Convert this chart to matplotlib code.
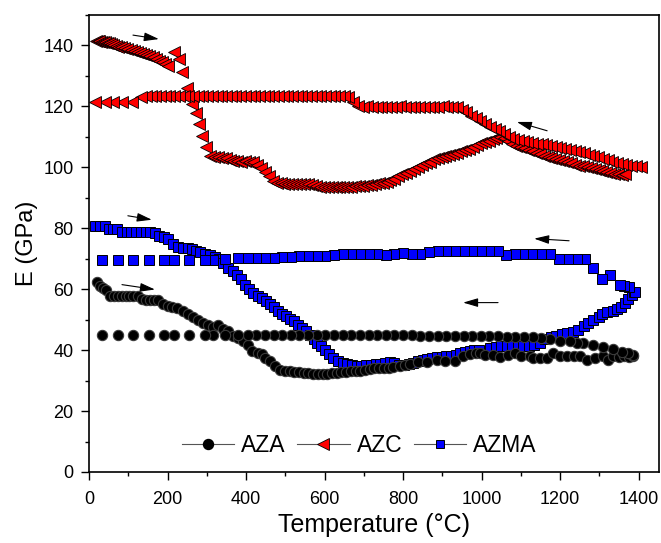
import matplotlib
matplotlib.use("Agg")
import matplotlib.pyplot as plt
from matplotlib.lines import Line2D
from matplotlib.ticker import MultipleLocator

plt.rcParams['font.family'] = ['Liberation Sans', 'DejaVu Sans']

# AZC (triangles) - heating branch
azc_heat_T = [18, 22, 26, 30, 35, 40, 45, 50, 56, 62, 68, 75, 82, 90, 98, 106, 114, 122, 130, 138,
              146, 154, 162, 170, 178, 186, 194, 202, 216, 228, 238, 250, 262, 272, 280, 288, 298, 308, 318,
              328, 338, 348, 358, 368, 378, 388, 398, 408, 418, 428, 438, 448, 458, 468, 478, 488, 498,
              508, 518, 528, 538, 548, 558, 568, 578, 588, 598, 608, 618, 628, 638, 648, 658, 668, 678,
              688, 698, 708, 718, 728, 738, 748, 758, 768, 778, 788, 798, 808, 818, 828, 838, 848, 858,
              868, 878, 888, 898, 908, 918, 928, 938, 948, 958, 968, 978, 988, 998, 1008, 1018, 1028,
              1038, 1048, 1058, 1068, 1078, 1088, 1098, 1108, 1118, 1128, 1138, 1148, 1158, 1168, 1178,
              1188, 1198, 1208, 1218, 1228, 1238, 1248, 1258, 1268, 1278, 1288, 1298, 1308, 1318, 1328,
              1338, 1348, 1358, 1366]
azc_heat_E = [141.6, 141.5, 141.4, 141.3, 141.2, 141.0, 140.9, 140.7, 140.5, 140.2, 139.9, 139.6, 139.5,
              139.2, 138.9, 138.6, 138.2, 137.9, 137.6, 137.2, 136.9, 136.6, 136.1, 135.6, 135.0, 134.5,
              134.0, 133.3, 137.8, 135.6, 131.4, 126.0, 120.8, 117.8, 114.2, 110.3, 106.8, 103.8, 103.4,
              103.3, 103.2, 102.9, 102.5, 102.2, 102.0, 101.9, 102.0, 101.8, 101.7, 100.8, 99.8, 98.6,
              97.2, 95.6, 94.8, 94.7, 94.6, 94.6, 94.6, 94.6, 94.6, 94.5, 94.5, 94.3, 93.8, 93.5, 93.4,
              93.4, 93.4, 93.5, 93.6, 93.5, 93.6, 93.7, 93.8, 93.9, 94.0, 94.2, 94.3, 94.5, 94.7, 95.0,
              95.3, 95.7, 96.2, 97.0, 97.7, 98.2, 98.7, 99.4, 100.2, 100.9, 101.3, 101.9, 102.6, 103.2,
              103.5, 103.8, 104.1, 104.5, 104.8, 105.2, 105.6, 106.1, 106.7, 107.3, 107.9, 108.3, 108.8,
              109.3, 109.7, 110.0, 109.5, 108.7, 107.7, 107.1, 106.6, 106.2, 105.7, 105.3, 104.8, 104.3,
              103.8, 103.4, 103.0, 102.7, 102.3, 102.0, 101.6, 101.3, 100.9, 100.6, 100.3, 100.0, 99.7,
              99.4, 99.1, 98.8, 98.5, 98.2, 97.9, 97.7, 97.5, 97.8]

# AZC - cooling branch
azc_cool_T = [1405, 1393, 1381, 1369, 1357, 1345, 1333, 1321, 1309, 1297, 1285, 1273, 1261, 1249, 1237,
              1225, 1213, 1201, 1189, 1177, 1165, 1153, 1141, 1129, 1117, 1105, 1093, 1081, 1069, 1057,
              1045, 1033, 1021, 1009, 997, 985, 973, 961, 949, 937, 925, 913, 901, 889, 877, 865, 853,
              841, 829, 817, 805, 793, 781, 769, 757, 745, 733, 721, 709, 697, 685, 673, 661, 649, 637,
              625, 613, 601, 589, 577, 565, 553, 541, 529, 517, 505, 493, 481, 469, 457, 445, 433, 421,
              409, 397, 385, 373, 361, 349, 337, 325, 313, 301, 289, 277, 265, 253, 241, 229, 217, 205,
              193, 181, 169, 157, 145, 133, 110, 84, 61, 40, 16]
azc_cool_E = [100.0, 100.3, 100.6, 100.9, 101.2, 101.5, 101.9, 102.4, 102.8, 103.3, 103.7, 104.2, 104.6,
              105.1, 105.4, 105.7, 106.0, 106.3, 106.6, 106.9, 107.2, 107.5, 107.8, 108.1, 108.4, 108.7,
              109.0, 109.3, 110.1, 110.9, 111.8, 112.6, 113.4, 114.3, 115.2, 116.1, 117.0, 118.0, 118.9,
              119.8, 119.9, 119.9, 120.0, 119.8, 119.8, 119.9, 119.9, 119.8, 119.9, 119.8, 119.9, 120.0,
              119.8, 119.9, 119.9, 119.8, 119.9, 119.9, 120.0, 119.9, 120.2, 121.6, 123.0, 123.4, 123.4,
              123.5, 123.4, 123.4, 123.3, 123.4, 123.4, 123.5, 123.4, 123.4, 123.4, 123.3, 123.4, 123.4,
              123.5, 123.4, 123.4, 123.4, 123.3, 123.4, 123.4, 123.4, 123.5, 123.4, 123.4, 123.4, 123.3,
              123.4, 123.4, 123.4, 123.5, 123.4, 123.4, 123.4, 123.3, 123.4, 123.4, 123.4, 123.5, 123.4,
              123.4, 123.4, 123.0, 121.4, 121.4, 121.4, 121.4, 121.4]

# AZMA (squares)
azma_heat_T = [15, 28, 41, 50, 60, 72, 84, 96, 108, 120, 132, 144, 156, 168, 178, 190, 202, 214, 227,
               240, 252, 262, 272, 284, 296, 308, 321, 332, 342, 354, 366, 378, 388, 398, 408, 418, 430,
               440, 450, 460, 470, 482, 492, 502, 512, 522, 532, 542, 552, 562, 572, 582, 592, 602, 612,
               622, 634, 646, 658, 670, 682, 694, 706, 718, 730, 742, 754, 766, 778, 790, 802, 814, 826,
               838, 850, 862, 874, 886, 898, 910, 922, 934, 946, 958, 970, 982, 994, 1022, 1036, 1050,
               1064, 1078, 1092, 1106, 1120, 1134, 1148, 1162, 1176, 1190, 1204, 1218, 1232, 1246, 1260,
               1270, 1284, 1298, 1308, 1320, 1334, 1346, 1356, 1366, 1374, 1382, 1388]
azma_heat_E = [80.9, 80.9, 80.9, 79.9, 79.9, 79.9, 78.9, 78.9, 78.9, 78.9, 78.9, 78.9, 78.7, 78.5, 77.6,
               77.0, 76.6, 75.0, 74.0, 73.6, 73.4, 73.2, 72.6, 72.2, 71.7, 71.2, 70.7, 69.8, 68.6, 66.8,
               66.0, 64.8, 63.5, 61.5, 60.0, 58.8, 57.9, 57.0, 56.1, 55.2, 54.3, 53.0, 52.0, 51.1, 50.2,
               49.4, 48.3, 47.2, 46.3, 45.0, 43.8, 42.4, 41.2, 40.0, 38.8, 37.5, 36.4, 35.8, 35.3, 35.0,
               34.9, 34.9, 35.0, 35.1, 35.3, 35.5, 35.8, 36.0, 35.8, 35.2, 35.0, 35.4, 35.8, 36.3, 36.8,
               37.0, 37.3, 37.6, 37.8, 38.0, 38.2, 38.5, 39.0, 39.5, 39.7, 39.9, 40.1, 40.8, 41.0, 41.2,
               41.2, 41.2, 41.3, 41.4, 41.5, 41.6, 42.3, 43.6, 44.3, 44.8, 45.2, 45.5, 46.0, 46.5, 47.8,
               48.8, 49.8, 51.0, 52.0, 52.6, 53.0, 53.5, 54.2, 55.4, 56.8, 58.0, 59.2]
azma_cool_T = [1390, 1376, 1364, 1352, 1327, 1307, 1284, 1264, 1243, 1220, 1198, 1175, 1152, 1129, 1106,
               1084, 1062, 1042, 1020, 998, 976, 954, 932, 910, 888, 866, 844, 822, 800, 778, 756, 734,
               712, 690, 668, 646, 624, 602, 580, 558, 536, 514, 492, 470, 448, 426, 404, 380, 347, 316,
               296, 255, 217, 191, 153, 112, 74, 33]
azma_cool_E = [59.0, 60.8, 61.2, 61.5, 64.5, 63.5, 66.8, 70.0, 70.0, 70.0, 70.0, 71.4, 71.4, 71.4, 71.4,
               71.4, 71.3, 72.7, 72.4, 72.6, 72.7, 72.7, 72.6, 72.7, 72.4, 72.3, 71.7, 71.7, 71.8, 71.7,
               71.1, 71.7, 71.7, 71.6, 71.5, 71.4, 71.2, 71.0, 71.0, 71.0, 70.9, 70.6, 70.5, 70.4, 70.3,
               70.3, 70.2, 70.1, 69.9, 69.7, 69.7, 69.7, 69.7, 69.7, 69.7, 69.7, 69.7, 69.7]

# AZA (circles)
aza_heat_T = [20, 28, 36, 43, 53, 63, 73, 83, 93, 103, 113, 125, 135, 145, 155, 165, 176, 189, 200, 212,
              224, 240, 252, 265, 278, 290, 303, 316, 329, 341, 354, 367, 380, 392, 405, 415, 430, 440,
              448, 461, 474, 487, 499, 511, 523, 535, 547, 559, 571, 583, 595, 607, 619, 631, 643, 655,
              667, 679, 691, 703, 715, 727, 739, 751, 763, 775, 792, 805, 818, 838, 861, 887, 907, 933,
              953, 970, 985, 996, 1010, 1030, 1047, 1068, 1085, 1100, 1124, 1131, 1150, 1167, 1182, 1200,
              1218, 1235, 1251, 1269, 1289, 1310, 1322, 1335, 1350, 1362, 1375, 1386]
aza_heat_E = [62.2, 61.2, 60.4, 59.6, 57.9, 57.9, 57.9, 57.9, 57.9, 57.9, 57.9, 57.9, 56.8, 56.6, 56.6,
              56.6, 56.6, 55.3, 54.6, 54.0, 53.7, 52.7, 52.0, 51.0, 49.8, 48.8, 48.1, 47.6, 48.1, 47.1,
              46.2, 44.8, 43.9, 42.9, 41.6, 39.8, 39.0, 38.6, 37.3, 36.3, 34.7, 33.5, 33.0, 33.0, 32.8,
              32.7, 32.6, 32.4, 32.3, 32.3, 32.3, 32.3, 32.4, 32.6, 32.8, 32.9, 33.0, 33.0, 33.2, 33.5,
              33.8, 34.0, 34.1, 34.2, 34.2, 34.4, 34.7, 35.1, 35.4, 36.0, 36.0, 36.7, 36.3, 36.3, 38.0,
              38.6, 38.9, 38.9, 38.5, 38.3, 37.7, 38.3, 39.0, 38.2, 38.0, 37.5, 37.3, 37.4, 39.0, 38.0,
              38.0, 38.0, 38.0, 36.7, 37.3, 38.0, 36.7, 38.0, 37.8, 38.0, 37.9, 38.0]
aza_cool_T = [1386, 1373, 1358, 1335, 1310, 1284, 1259, 1243, 1226, 1200, 1175, 1152, 1130, 1108, 1086,
              1064, 1042, 1020, 998, 976, 954, 932, 910, 888, 866, 844, 822, 800, 778, 756, 734, 712,
              690, 668, 646, 624, 602, 580, 558, 536, 514, 492, 470, 448, 426, 404, 380, 347, 316, 296,
              255, 217, 191, 153, 112, 74, 33]
aza_cool_E = [38.3, 39.0, 39.3, 40.3, 41.0, 41.6, 42.2, 42.4, 42.9, 43.0, 43.6, 44.1, 44.2, 44.3, 44.3,
              44.4, 44.5, 44.6, 44.7, 44.7, 44.6, 44.7, 44.8, 44.8, 44.8, 44.8, 44.9, 44.9, 44.9, 45.0,
              44.9, 44.9, 45.0, 45.0, 45.0, 45.0, 45.0, 45.1, 45.0, 45.0, 45.0, 45.0, 45.0, 45.0, 45.0,
              45.0, 45.0, 45.0, 45.0, 45.0, 45.0, 45.0, 45.0, 45.0, 45.0, 45.0, 45.0]

# heating / cooling arrows: (tail, head) in data units
arrows = [((112, 143.4), (178, 142.1)),
          ((99, 84.1), (160, 82.8)),
          ((84, 61.5), (168, 59.9)),
          ((1167, 112.0), (1090, 114.9)),
          ((1223, 75.9), (1134, 76.6)),
          ((1042, 55.6), (953, 55.6))]

fig = plt.figure(figsize=(6.61, 5.43), dpi=100)
ax = fig.add_axes([89 / 661, 71 / 543, 570 / 661, 457 / 543])

sq = dict(ls='none', marker='s', ms=6.5, mfc='#0000ff', mec='black', mew=0.7, zorder=2)
tri = dict(ls='none', marker='<', ms=8.6, mfc='#ff0000', mec='black', mew=0.6, zorder=3)
circ = dict(ls='none', marker='o', ms=7.4, mfc='black', mec='#3c3c3c', mew=0.8, zorder=4)

ax.plot(azma_heat_T + azma_cool_T, azma_heat_E + azma_cool_E, **sq)
ax.plot(azc_heat_T, azc_heat_E, **tri)
ax.plot(azc_cool_T, azc_cool_E, **tri)
ax.plot(aza_heat_T + aza_cool_T, aza_heat_E + aza_cool_E, **circ)

for tail, head in arrows:
    ax.annotate('', xy=head, xytext=tail,
                arrowprops=dict(arrowstyle='-|>,head_length=0.75,head_width=0.22',
                                mutation_scale=12, color='black', lw=0.8,
                                shrinkA=0, shrinkB=0), zorder=5)

ax.set_xlim(0, 1452)
ax.set_ylim(0, 150)
ax.xaxis.set_major_locator(MultipleLocator(200))
ax.xaxis.set_minor_locator(MultipleLocator(100))
ax.yaxis.set_major_locator(MultipleLocator(20))
ax.yaxis.set_minor_locator(MultipleLocator(10))
ax.tick_params(which='major', direction='out', length=6, width=1.0, labelsize=13, pad=5)
ax.tick_params(axis='x', which='major', pad=7.5)
ax.tick_params(which='minor', direction='out', length=3, width=1.0)
ax.tick_params(top=False, right=False, which='both')
for s in ax.spines.values():
    s.set_linewidth(1.2)

ax.set_xlabel('Temperature (°C)', fontsize=18, labelpad=4)
ax.set_ylabel('E (GPa)', fontsize=17, labelpad=4)

gray = '#555555'
handles = [
    Line2D([], [], color=gray, lw=0.8, marker='o', ms=7.2, mfc='black', mec='black'),
    Line2D([], [], color=gray, lw=0.8, marker='<', ms=8.0, mfc='#ff0000', mec='black', mew=0.6),
    Line2D([], [], color=gray, lw=0.8, marker='s', ms=6.3, mfc='#0000ff', mec='black', mew=0.7),
]
ax.legend(handles, ['AZA', 'AZC', 'AZMA'], loc='center', bbox_to_anchor=(0.474, 0.057),
          ncol=3, frameon=False, fontsize=16.5, handlelength=2.3, handletextpad=0.3,
          columnspacing=0.5, borderpad=0)

fig.savefig('out.png', dpi=100)
